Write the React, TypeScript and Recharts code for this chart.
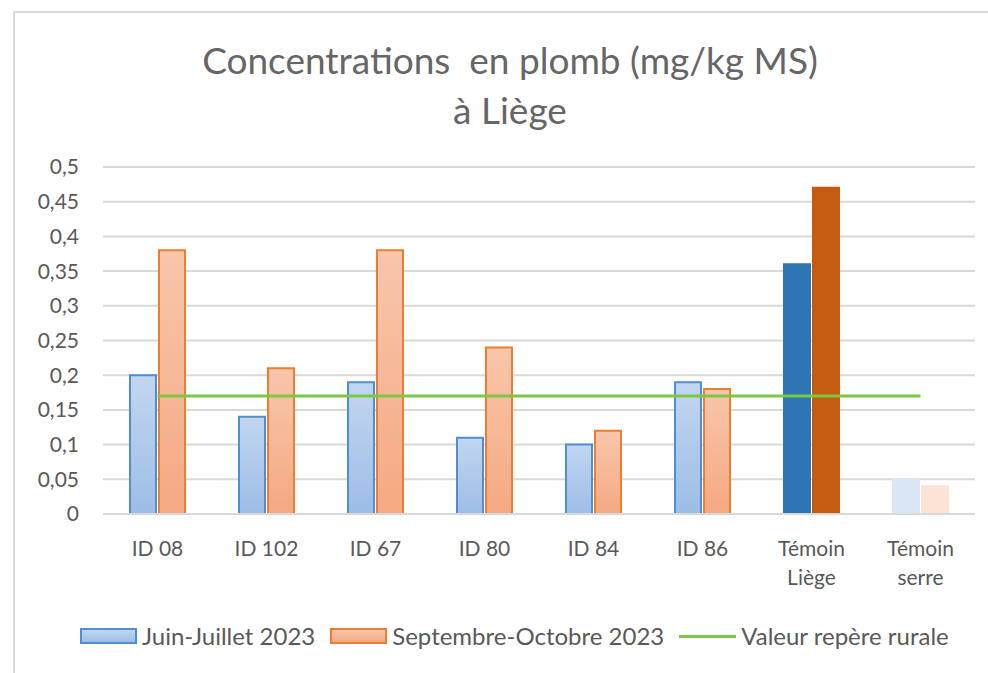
import { Bar, CartesianGrid, Cell, ComposedChart, Line, XAxis, YAxis } from "recharts"

const categories = ["ID 08", "ID 102", "ID 67", "ID 80", "ID 84", "ID 86", "Témoin Liège", "Témoin serre"]
const juinJuillet = [0.2, 0.14, 0.19, 0.11, 0.1, 0.19, 0.36, 0.05]
const septOct = [0.38, 0.21, 0.38, 0.24, 0.12, 0.18, 0.47, 0.04]
const repereRural = [0.17, 0.17, 0.17, 0.17, 0.17, 0.17, 0.17, 0.17]
const yTicks = [0, 0.05, 0.1, 0.15, 0.2, 0.25, 0.3, 0.35, 0.4, 0.45, 0.5]

const data = categories.map((name, i) => ({
  name,
  juin: juinJuillet[i],
  sept: septOct[i],
  repere: repereRural[i],
}))

const FONT = "Lato, 'Noto Sans', sans-serif"
const GREY = "#595959"

// special look for the two "Témoin" groups
function blueStyle(name: string) {
  if (name === "Témoin Liège") return { fill: "#2e75b6", stroke: "#2e75b6" }
  if (name === "Témoin serre") return { fill: "#dce7f5", stroke: "#dce7f5" }
  return { fill: "url(#gradBlue)", stroke: "#4f8ed3" }
}
function orangeStyle(name: string) {
  if (name === "Témoin Liège") return { fill: "#c55a11", stroke: "#c55a11" }
  if (name === "Témoin serre") return { fill: "#fbe3d6", stroke: "#fbe3d6" }
  return { fill: "url(#gradOrange)", stroke: "#ed7d31" }
}

function XTick(props: any) {
  const { x, y, payload } = props
  const label: string = payload.value
  const lines = label.startsWith("Témoin") ? label.split(" ") : [label]
  return (
    <text x={x} y={y} textAnchor="middle" fill={GREY} fontSize={21} fontFamily={FONT}>
      {lines.map((l, i) => (
        <tspan key={i} x={x} dy={i === 0 ? 34 : 29}>
          {l}
        </tspan>
      ))}
    </text>
  )
}

const legendItems = [
  { label: "Juin-Juillet 2023", kind: "box", fill: "linear-gradient(#c2d6f0, #9dbde6)", border: "#4f8ed3" },
  { label: "Septembre-Octobre 2023", kind: "box", fill: "linear-gradient(#f8c6ab, #f4a982)", border: "#ed7d31" },
  { label: "Valeur repère rurale", kind: "line", fill: "#7cc744", border: "#7cc744" },
]

export default function App() {
  return (
    <div
      style={{
        position: "absolute",
        left: 0,
        top: 0,
        width: 988,
        height: 673,
        background: "#fff",
        overflow: "hidden",
        fontFamily: FONT,
      }}
    >
      <div
        style={{
          position: "absolute",
          left: 13,
          top: 11,
          width: 1000,
          height: 700,
          borderLeft: "2px solid #d9d9d9",
          borderTop: "2px solid #d9d9d9",
        }}
      />
      <div
        style={{
          position: "absolute",
          top: 35,
          left: 0,
          width: 1020,
          textAlign: "center",
          color: "#666",
          fontSize: 37,
          lineHeight: "50px",
        }}
      >
        <div>Concentrations&nbsp; en plomb (mg/kg MS)</div>
        <div>à Liège</div>
      </div>
      <ComposedChart
        width={988}
        height={673}
        data={data}
        margin={{ top: 167, right: 13, bottom: 0, left: 0 }}
        barSize={26}
        barGap={3}
        style={{ position: "absolute", left: 0, top: 0 }}
      >
        <defs>
          <linearGradient id="gradBlue" x1="0" y1="0" x2="0" y2="1">
            <stop offset="0%" stopColor="#c2d6f0" />
            <stop offset="100%" stopColor="#9dbde6" />
          </linearGradient>
          <linearGradient id="gradOrange" x1="0" y1="0" x2="0" y2="1">
            <stop offset="0%" stopColor="#f8c6ab" />
            <stop offset="100%" stopColor="#f4a982" />
          </linearGradient>
        </defs>
        <CartesianGrid vertical={false} stroke="#d9d9d9" strokeWidth={2} />
        <XAxis
          dataKey="name"
          height={159}
          axisLine={{ stroke: "#d9d9d9", strokeWidth: 2 }}
          tickLine={false}
          interval={0}
          tick={<XTick />}
        />
        <YAxis
          width={103}
          domain={[0, 0.5]}
          ticks={yTicks}
          axisLine={false}
          tickLine={false}
          tickSize={0}
          tickMargin={24}
          tickFormatter={(v: number) => String(v).replace(".", ",")}
          tick={{ fill: GREY, fontSize: 21, fontFamily: FONT }}
        />
        <Bar dataKey="juin" strokeWidth={2} isAnimationActive={false}>
          {data.map((d) => (
            <Cell key={d.name} {...blueStyle(d.name)} />
          ))}
        </Bar>
        <Bar dataKey="sept" strokeWidth={2} isAnimationActive={false}>
          {data.map((d) => (
            <Cell key={d.name} {...orangeStyle(d.name)} />
          ))}
        </Bar>
        <Line
          dataKey="repere"
          stroke="#7cc744"
          strokeWidth={3}
          dot={false}
          activeDot={false}
          isAnimationActive={false}
        />
      </ComposedChart>
      <div
        style={{
          position: "absolute",
          top: 620,
          left: 80,
          display: "flex",
          alignItems: "center",
          color: GREY,
          fontSize: 24,
          lineHeight: "32px",
          whiteSpace: "nowrap",
        }}
      >
        {legendItems.map((it) => (
          <div key={it.label} style={{ display: "flex", alignItems: "center", marginRight: 15 }}>
            {it.kind === "box" ? (
              <span
                style={{
                  display: "inline-block",
                  width: 53,
                  height: 12,
                  background: it.fill,
                  border: `2px solid ${it.border}`,
                  marginRight: 5,
                }}
              />
            ) : (
              <span
                style={{
                  display: "inline-block",
                  width: 57,
                  height: 3,
                  background: it.fill,
                  marginRight: 5,
                }}
              />
            )}
            <span>{it.label}</span>
          </div>
        ))}
      </div>
    </div>
  )
}
